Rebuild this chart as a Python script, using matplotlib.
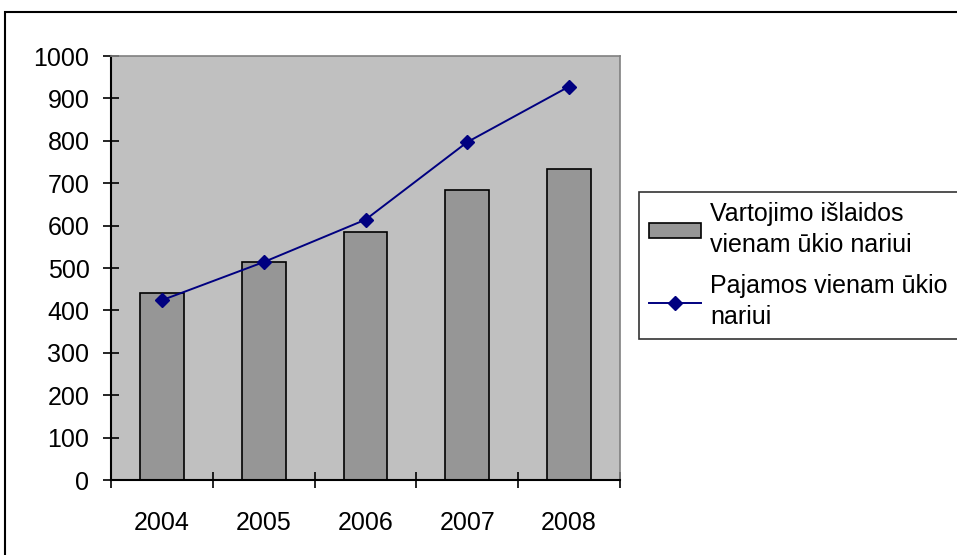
import numpy as np
import matplotlib.pyplot as plt
from matplotlib.patches import Rectangle

plt.rcParams['font.family'] = ['Liberation Sans', 'DejaVu Sans']

# Data
years = ['2004', '2005', '2006', '2007', '2008']
spending = [442, 513, 584, 683, 734]   # Vartojimo išlaidos vienam ūkio nariui
income = [424, 514, 614, 797, 928]     # Pajamos vienam ūkio nariui

fig = plt.figure(figsize=(9.57, 5.55), dpi=100)
ax = fig.add_axes([111 / 957, 1 - 480 / 555, 509 / 957, 424 / 555])

x = np.arange(len(years))
ax.set_facecolor('#C0C0C0')
bars = ax.bar(x, spending, width=0.43, color='#969696', edgecolor='black', linewidth=1.2,
              label='Vartojimo išlaidos\nvienam ūkio nariui', zorder=2)
line, = ax.plot(x, income, color='#000080', marker='D', markersize=7, linewidth=1.4,
                label='Pajamos vienam ūkio\nnariui', zorder=3)

ax.set_xlim(-0.5, len(years) - 0.5)
ax.set_ylim(0, 1000)
ax.set_yticks(np.arange(0, 1001, 100))

# x ticks at category boundaries, labels centred in categories
ax.set_xticks(np.arange(-0.5, len(years), 1.0))
ax.set_xticklabels([])
ax.set_xticks(x, minor=True)
ax.set_xticklabels(years, minor=True)
ax.tick_params(axis='x', which='major', direction='inout', length=11, width=1.2)
ax.tick_params(axis='x', which='minor', length=0, pad=22, labelsize=18)
ax.tick_params(axis='y', direction='inout', length=11, width=1.2, pad=10, labelsize=18)

for side in ['top', 'right']:
    ax.spines[side].set_color('#808080')
    ax.spines[side].set_linewidth(1.2)
for side in ['left', 'bottom']:
    ax.spines[side].set_color('black')
    ax.spines[side].set_linewidth(1.5)

leg = ax.legend([bars, line], [bars.get_label(), line.get_label()],
                loc='upper left', bbox_to_anchor=(639 / 957, 1 - 192 / 555),
                bbox_transform=fig.transFigure, fontsize=18, frameon=True,
                fancybox=False, edgecolor='black', borderaxespad=0,
                handlelength=2.08, handleheight=0.52, handletextpad=0.36,
                labelspacing=0.68, borderpad=0.4)
leg.get_frame().set_linewidth(1.2)
for t in leg.get_texts():
    t.set_linespacing(1.38)

# outer chart border (runs past the right and bottom edges)
fig.patches.append(Rectangle((5 / 957, -0.1), 1.2, 1.1 - 12 / 555,
                             transform=fig.transFigure, fill=False,
                             edgecolor='black', linewidth=1.5))

fig.savefig('out.png', dpi=100)
